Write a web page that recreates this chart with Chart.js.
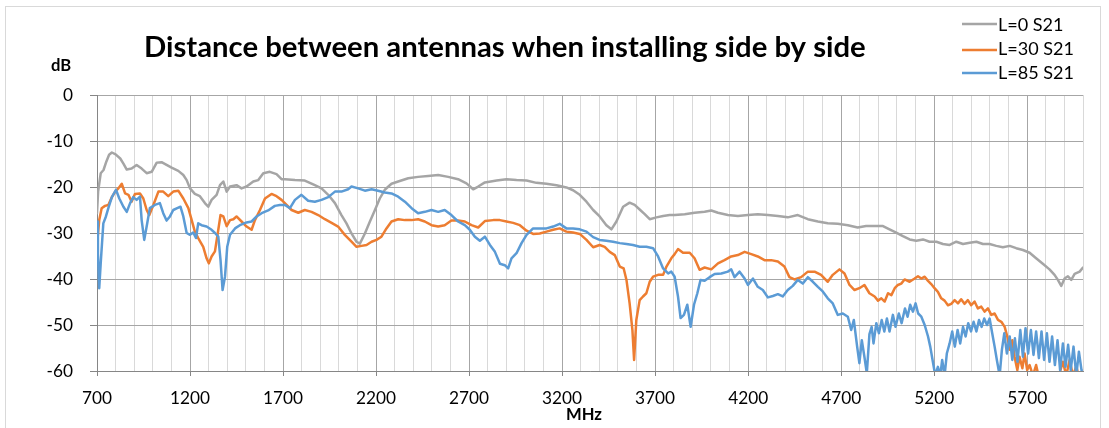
<!DOCTYPE html>
<html>
<head>
<meta charset="utf-8">
<script src="https://cdn.jsdelivr.net/npm/chart.js@4"></script>
<style>
html,body{margin:0;padding:0;background:#fff;}
#c{display:block;}
</style>
</head>
<body>
<canvas id="c" width="1109" height="428"></canvas>
<script>
const chartTitle = 'Distance between antennas when installing side by side';
const yTitle = 'dB';
const xTitle = 'MHz';
const seriesNames = ['L=0 S21', 'L=30 S21', 'L=85 S21'];
const seriesColors = ['#A5A5A5', '#ED7D31', '#5B9BD5'];
const xLabelTicks = [700, 1200, 1700, 2200, 2700, 3200, 3700, 4200, 4700, 5200, 5700];

// L=0 S21
const freqL0 = [
700,706,720,735,750,765,780,800,825,842,
860,886,913,940,967,994,1021,1047,1074,1101,
1137,1164,1182,1200,1226,1253,1280,1298,1316,1343,
1361,1379,1397,1415,1450,1477,1504,1540,1567,1594,
1629,1665,1692,1710,1764,1817,1871,1907,1943,1979,
2014,2041,2068,2095,2113,2140,2167,2194,2220,2247,
2283,2319,2373,2426,2480,2534,2588,2641,2686,2722,
2749,2785,2848,2901,2955,3009,3062,3116,3170,3223,
3259,3295,3331,3367,3402,3438,3465,3492,3528,3563,
3590,3617,3644,3671,3707,3743,3778,3805,3859,3912,
3966,4002,4038,4091,4145,4199,4252,4306,4360,4413,
4467,4521,4575,4628,4682,4736,4789,4834,4889,4925,
4960,4996,5032,5068,5104,5140,5175,5212,5247,5283,
5319,5355,5391,5427,5462,5498,5534,5569,5606,5641,
5677,5713,5748,5784,5820,5847,5865,5883,5901,5919,
5937,5955,5982,6000];
const dbL0 = [
-25.7,-21,-17,-16.3,-14.5,-13,-12.5,-12.9,-13.8,-14.9,
-16.2,-16,-15.2,-16,-17,-16.7,-14.7,-14.6,-15.2,-15.8,
-16.5,-17.4,-18.5,-20.3,-21.5,-22,-23.5,-24.3,-22.8,-21.7,
-19.6,-18.8,-21,-19.9,-19.6,-20.3,-19.9,-18.8,-18.5,-17,
-16.7,-17.2,-18.3,-18.3,-18.5,-18.6,-19.6,-20.3,-21.7,-23.5,
-26.1,-27.9,-30.1,-31.9,-32.3,-30.1,-27.5,-25,-22.5,-20.6,
-19.3,-18.8,-18.1,-17.8,-17.6,-17.4,-17.8,-18.3,-19.2,-20.5,
-19.9,-19,-18.6,-18.3,-18.5,-18.6,-19.1,-19.3,-19.6,-20.1,
-20.7,-21.7,-23.2,-25,-26.4,-28.3,-29.2,-27.5,-24.3,-23.4,
-23.9,-24.9,-25.9,-27,-26.6,-26.3,-26.1,-26.1,-25.9,-25.6,
-25.4,-25.1,-25.6,-26.1,-26.3,-26.1,-25.9,-26.1,-26.3,-26.6,
-26.1,-27,-27.5,-27.9,-28,-28.3,-28.8,-28.5,-28.5,-28.5,
-29.2,-29.9,-30.7,-31.4,-31.7,-31.4,-31.9,-31.9,-32.4,-32.6,
-31.9,-32.4,-32.1,-31.9,-32.4,-32.4,-32.8,-33.1,-32.8,-33.3,
-33.7,-34.3,-35.5,-36.7,-37.9,-39.1,-40.2,-41.5,-39.9,-39.4,
-40.2,-38.9,-38.4,-37.5];

// L=30 S21
const freqL30 = [
700,712,725,743,761,780,798,815,833,851,
869,886,904,931,949,967,981,1003,1030,1056,
1083,1110,1137,1164,1191,1209,1226,1244,1271,1289,
1301,1316,1334,1352,1364,1379,1397,1415,1433,1450,
1477,1504,1531,1549,1576,1603,1638,1665,1692,1719,
1746,1782,1817,1853,1889,1925,1961,1996,2032,2068,
2095,2122,2149,2176,2202,2229,2256,2283,2319,2355,
2391,2426,2462,2498,2534,2569,2605,2641,2677,2713,
2749,2785,2830,2866,2901,2937,2973,3009,3044,3080,
3116,3152,3187,3223,3259,3295,3331,3367,3402,3429,
3456,3483,3510,3531,3546,3563,3578,3587,3599,3617,
3635,3653,3671,3689,3716,3743,3761,3787,3805,3823,
3850,3886,3912,3939,3966,4002,4038,4073,4109,4145,
4181,4217,4252,4288,4324,4360,4395,4422,4449,4485,
4521,4557,4592,4628,4655,4691,4718,4745,4772,4798,
4825,4852,4880,4898,4916,4934,4952,4970,4988,5005,
5023,5041,5068,5095,5113,5131,5149,5167,5184,5202,
5220,5238,5256,5274,5292,5310,5328,5345,5363,5381,
5399,5417,5435,5453,5471,5489,5507,5525,5543,5561,
5579,5593,5606,5620,5632,5647,5659,5674,5686,5700,
5713,5731,5748,5766,5790,5820,5850,5870,5892,5910,
5928,5946,5964,5982,6000];
const dbL30 = [
-32.6,-27.2,-24.6,-24.1,-23.9,-22.2,-21,-20.3,-19.3,-21.4,
-21.7,-23.2,-21.5,-21.4,-22.5,-25,-26.1,-23.9,-21,-21,
-22,-21,-20.8,-22.5,-24.6,-27.2,-29.7,-31.1,-33,-35.5,
-36.6,-35.1,-34,-29.3,-26.1,-26.4,-28.5,-27.2,-27,-26.4,
-27.5,-28.6,-29.3,-27.2,-25,-22.5,-21.5,-22,-22.8,-23.9,
-25,-25.6,-25,-25.4,-26.1,-27,-27.8,-28.6,-30.4,-31.9,
-33,-32.8,-32.6,-31.9,-31.5,-30.8,-29,-27.5,-27,-27.2,
-27.2,-27,-27.5,-28.3,-28.6,-28.3,-27.3,-27.3,-27.5,-28.3,
-28.8,-27.4,-27.2,-27.2,-27.5,-27.8,-28.3,-29.5,-30.2,-30.1,
-29.7,-29.3,-29,-29.7,-29.9,-30.2,-31.5,-33.1,-32.6,-33,
-34.1,-34.8,-37.3,-37.7,-40.2,-45.3,-51.1,-57.6,-48.9,-44.6,
-43.8,-43.1,-40.6,-39.5,-39.1,-39.1,-37.3,-35.5,-34.6,-33.5,
-34.3,-34.3,-35.5,-38,-37.5,-37.9,-36.6,-35.9,-35.1,-34.8,
-34.1,-34.6,-35.1,-35.9,-35.9,-36.2,-37.3,-39.6,-40.1,-39.6,
-38.4,-38.4,-39.1,-40.6,-39.1,-37.9,-38.8,-41.3,-42.4,-42,
-41.3,-43.1,-43.8,-44.7,-44.2,-44.9,-43.1,-43.5,-42,-41.3,
-41,-40.1,-40.6,-39.9,-39.4,-39.9,-39.5,-40.4,-41.1,-42,
-42.8,-44.2,-44.7,-45.7,-45.4,-44.6,-45.3,-44.4,-45.4,-44.6,
-45.7,-44.9,-46.4,-46,-47.1,-46.4,-47.8,-47.5,-48.9,-49.3,
-50.4,-52.5,-55.4,-53.3,-56.9,-59.8,-56.9,-59.4,-56.2,-59.8,
-58.7,-61,-58.7,-62,-64,-63,-62,-61,-58,-61,
-57.6,-61,-59,-62,-61];

// L=85 S21
const freqL85 = [
700,705,712,721,734,748,761,780,802,820,
842,860,878,895,913,931,940,954,970,984,
1011,1038,1056,1074,1092,1110,1131,1149,1164,1182,
1200,1217,1232,1244,1262,1289,1316,1334,1352,1364,
1375,1388,1400,1415,1442,1468,1504,1531,1558,1585,
1620,1656,1683,1710,1737,1764,1799,1835,1871,1907,
1943,1979,2014,2050,2068,2104,2140,2176,2211,2247,
2283,2319,2355,2391,2426,2462,2498,2534,2569,2605,
2641,2677,2704,2731,2758,2785,2812,2839,2866,2892,
2910,2928,2955,2982,3009,3044,3080,3116,3152,3187,
3223,3259,3295,3331,3367,3402,3438,3474,3510,3546,
3581,3617,3653,3689,3716,3743,3770,3787,3805,3823,
3837,3855,3873,3891,3909,3927,3944,3966,3993,4020,
4056,4091,4109,4127,4154,4181,4199,4226,4252,4279,
4306,4333,4360,4386,4413,4440,4467,4494,4521,4548,
4575,4601,4628,4655,4682,4709,4736,4754,4768,4786,
4798,4811,4825,4838,4852,4864,4874,4889,4903,4918,
4932,4946,4960,4978,4992,5010,5025,5043,5057,5071,
5086,5100,5114,5131,5149,5167,5179,5193,5206,5220,
5233,5243,5256,5268,5283,5297,5311,5326,5340,5355,
5369,5383,5398,5412,5427,5441,5455,5469,5484,5498,
5512,5525,5537,5552,5564,5577,5591,5606,5620,5634,
5648,5663,5677,5691,5705,5720,5734,5748,5763,5777,
5791,5806,5820,5834,5849,5863,5877,5892,5906,5920,
5934,5949,5964,5978,5992,6000];
const dbL85 = [
-27.5,-34.4,-42,-35.9,-27.9,-26.4,-24.6,-22.2,-20.6,-22.5,
-24.3,-25.4,-23.5,-22.2,-22.8,-22.1,-27.2,-31.5,-27.9,-24.6,
-23.9,-23.5,-25.7,-27.3,-26.4,-25,-24.6,-24.3,-26.4,-30,
-30.4,-29.9,-31.1,-27.9,-28.3,-28.6,-29.3,-30,-30.8,-35.9,
-42.4,-39.5,-33,-30.4,-29,-28.3,-27.7,-27.5,-26.4,-25.7,
-25.1,-24.1,-23.9,-23.9,-24.6,-22.8,-21.7,-23,-23.2,-22.8,
-22.2,-21,-21,-20.5,-19.9,-20.3,-20.8,-20.5,-20.8,-21.2,
-21.4,-22.1,-23.2,-24.6,-25.7,-25.4,-25,-25.4,-25,-26.1,
-27.5,-28.3,-29.3,-30.8,-31.7,-30.8,-32.6,-34.1,-36.7,-37,
-37.7,-35.5,-34.4,-32.2,-30.4,-29,-29,-29,-28.6,-28,
-29,-29,-29.2,-29.7,-30.9,-31.5,-31.7,-31.9,-32.2,-32.4,
-32.6,-33,-33,-33.3,-35.1,-37.7,-38.8,-38.4,-39.5,-43.8,
-48.5,-47.8,-45.6,-50.4,-45.6,-43.1,-40.2,-40.4,-39.6,-38.9,
-38.8,-38.4,-37.9,-39.6,-38.4,-39.9,-41.3,-39.9,-41.7,-42.4,
-44,-43.7,-43.3,-43.8,-42.4,-41.5,-40.2,-41,-39.6,-40.6,
-41.7,-42.7,-44.2,-45.3,-47.8,-47.5,-48.2,-51.1,-48.9,-54.7,
-58.3,-53.3,-56.9,-60.5,-52,-50.4,-54,-49.6,-51.8,-48.9,
-51.4,-48.6,-51.4,-47.8,-50.4,-47.5,-49.6,-46.4,-48.2,-45.6,
-47.1,-45.3,-47.5,-48.2,-50,-52.5,-54.7,-58,-61,-59.1,
-61,-57.6,-61,-56.2,-54,-51.4,-54.7,-51.1,-54,-50.4,
-52.5,-49.6,-51.4,-49.3,-51.4,-48.9,-50.4,-48.6,-50,-48.6,
-51.8,-54.7,-57.6,-61,-55.4,-51.8,-56.2,-52.5,-57.6,-52.9,
-58,-51.1,-56.9,-50.7,-56.2,-51.1,-56.5,-51.4,-57.2,-51.4,
-57.6,-51.8,-58,-52.5,-58.7,-53.3,-59.8,-54,-59.1,-54.3,
-59.8,-54.7,-61,-55.8,-59.8,-61];

const FONT = 'Lato, "Open Sans", sans-serif';
const mctx = document.createElement('canvas').getContext('2d');
function fitSize(text, weight, target) {
  mctx.font = weight + ' 100px ' + FONT;
  return 100 * target / mctx.measureText(text).width;
}
const titleSize = fitSize(chartTitle, 'bold', 722);
const tickSize = fitSize('1200', 'normal', 40);
const legendSize = fitSize('L=85 S21', 'normal', 76);
const axisTitleSize = fitSize('MHz', 'bold', 36);

function pts(fs, ds) {
  const out = [];
  for (let i = 0; i < fs.length && i < ds.length; i++) out.push({x: fs[i], y: ds[i]});
  return out;
}

const decor = {
  id: 'decor',
  beforeDraw(chart) {
    const c = chart.ctx;
    c.save();
    c.fillStyle = '#ffffff';
    c.fillRect(0, 0, chart.width, chart.height);
    c.restore();
  },
  afterDraw(chart) {
    const c = chart.ctx;
    c.save();
    c.strokeStyle = '#d9d9d9';
    c.lineWidth = 1;
    c.strokeRect(5.5, 6.5, 1095, 440);
    c.fillStyle = '#000000';
    c.textBaseline = 'alphabetic';
    c.textAlign = 'left';
    c.font = 'bold ' + titleSize + 'px ' + FONT;
    c.fillText(chartTitle, 144, 57);
    c.font = 'bold ' + axisTitleSize + 'px ' + FONT;
    c.textAlign = 'center';
    c.fillText(yTitle, 61, 71);
    c.fillText(xTitle, 584, 420);
    // legend
    const lineY = [24, 50, 73];
    const textY = [31, 55, 79];
    c.font = legendSize + 'px ' + FONT;
    c.textAlign = 'left';
    for (let i = 0; i < seriesNames.length; i++) {
      c.strokeStyle = seriesColors[i];
      c.lineWidth = 2.5;
      c.beginPath();
      c.moveTo(962, lineY[i]);
      c.lineTo(997, lineY[i]);
      c.stroke();
      c.fillStyle = '#000000';
      c.fillText(seriesNames[i], 998, textY[i]);
    }
    c.restore();
  }
};

const isMajor = v => xLabelTicks.includes(Math.round(v));

new Chart(document.getElementById('c'), {
  type: 'line',
  data: {
    datasets: [
      {label: seriesNames[0], data: pts(freqL0, dbL0), borderColor: seriesColors[0], order: 3},
      {label: seriesNames[1], data: pts(freqL30, dbL30), borderColor: seriesColors[1], order: 2},
      {label: seriesNames[2], data: pts(freqL85, dbL85), borderColor: seriesColors[2], order: 1}
    ]
  },
  options: {
    responsive: false,
    animation: false,
    devicePixelRatio: 1,
    layout: {padding: {top: 95, right: 26, left: 0, bottom: 0}},
    elements: {
      point: {radius: 0},
      line: {borderWidth: 2.5, tension: 0, borderJoinStyle: 'round', borderCapStyle: 'round', fill: false}
    },
    datasets: {line: {clip: {left: 0, top: 0, right: 0, bottom: 0}}},
    plugins: {legend: {display: false}, title: {display: false}, tooltip: {enabled: false}},
    scales: {
      x: {
        type: 'linear', min: 700, max: 6000,
        afterFit: s => { s.height = 57; },
        ticks: {
          stepSize: 100, autoSkip: false, maxRotation: 0, minRotation: 0, padding: 12,
          color: '#000000', font: {family: FONT, size: tickSize},
          callback: v => isMajor(v) ? String(v) : ''
        },
        grid: {
          color: ctx => (ctx.tick && isMajor(ctx.tick.value)) ? '#a6a6a6' : '#d9d9d9',
          tickColor: ctx => (ctx.tick && isMajor(ctx.tick.value)) ? '#868686' : 'rgba(0,0,0,0)',
          tickLength: 5, lineWidth: 1
        },
        border: {color: '#868686', width: 1}
      },
      y: {
        min: -60, max: 0,
        afterFit: s => { s.width = 97; },
        ticks: {stepSize: 10, padding: 17, color: '#000000', font: {family: FONT, size: tickSize}},
        grid: {color: '#a6a6a6', tickColor: '#868686', tickLength: 7, lineWidth: 1},
        border: {color: '#868686', width: 1}
      }
    }
  },
  plugins: [decor]
});
</script>
</body>
</html>
